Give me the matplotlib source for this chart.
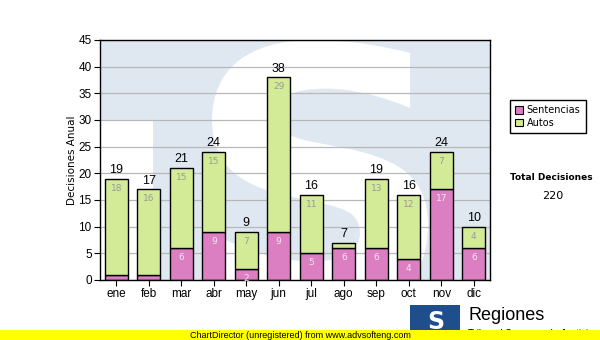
import numpy as np
import matplotlib.pyplot as plt
import matplotlib.patches as mpatches
from matplotlib.textpath import TextPath
from matplotlib.font_manager import FontProperties
from matplotlib.transforms import Affine2D

plt.rcParams.update({'font.family': 'Liberation Sans'})

# monthly decisions
meses = ['ene', 'feb', 'mar', 'abr', 'may', 'jun',
         'jul', 'ago', 'sep', 'oct', 'nov', 'dic']
sentencias = [1, 1, 6, 9, 2, 9, 5, 6, 6, 4, 17, 6]
autos = [18, 16, 15, 15, 7, 29, 11, 1, 13, 12, 7, 4]
totales = [s + a for s, a in zip(sentencias, autos)]

C_SENT = '#DC7EC2'
C_AUTO = '#D3EA96'
WM_BLUE = '#DFE8F1'

W, H = 600, 340
fig = plt.figure(figsize=(6, 3.4), dpi=100)
fig.patch.set_facecolor('white')

ax = fig.add_axes([100 / W, 1 - 280 / H, 390 / W, 240 / H])
ax.set_facecolor(WM_BLUE)

x = np.arange(len(meses))
ax.set_xlim(-0.5, len(meses) - 0.5)
ax.set_ylim(0, 45)

# watermark: white cut-out of the logo behind the bars
ax.add_patch(mpatches.Rectangle((0, 0), 53 / 390, 160 / 240,
                                transform=ax.transAxes, fc='white',
                                ec='none', zorder=0.2))
fp = FontProperties(family='DejaVu Sans', weight='bold')
tp = TextPath((0, 0), 'S', prop=fp, size=1)
ext = tp.get_extents()
x0, x1 = 112 / 390, 328 / 390
y0, y1 = -30 / 240, 1.0
tr = (Affine2D().translate(-ext.x0, -ext.y0)
      .scale((x1 - x0) / ext.width, (y1 - y0) / ext.height)
      .translate(x0, y0))
s_patch = mpatches.PathPatch(tr.transform_path(tp), fc='white', ec='none',
                             transform=ax.transAxes, zorder=0.3)
ax.add_patch(s_patch)
s_patch.set_clip_path(ax.patch)

ax.yaxis.grid(True, color='#B8B8B8', lw=0.9, zorder=0.5)
ax.set_axisbelow(True)

bw = 0.7
ax.bar(x, sentencias, bw, color=C_SENT, edgecolor='black', lw=1.0, zorder=2)
ax.bar(x, autos, bw, bottom=sentencias, color=C_AUTO, edgecolor='black',
       lw=1.0, zorder=2)

for xi, s, a, t in zip(x, sentencias, autos, totales):
    if s >= 2:
        ax.annotate(str(s), (xi, s), xytext=(0, -5), textcoords='offset pixels',
                    ha='center', va='top', fontsize=6.5, color='#F6E6F2',
                    family='DejaVu Sans', zorder=3)
    if a >= 2:
        ax.annotate(str(a), (xi, t), xytext=(0, -5), textcoords='offset pixels',
                    ha='center', va='top', fontsize=6.5, color='#9A9A9A',
                    family='DejaVu Sans', zorder=3)
    ax.annotate(str(t), (xi, t), xytext=(0, 2), textcoords='offset points',
                ha='center', va='bottom', fontsize=9, color='black', zorder=3)

ax.set_xticks(x)
ax.set_xticklabels(meses)
ax.set_yticks(np.arange(0, 46, 5))
ax.tick_params(axis='both', labelsize=8.5, length=4, width=0.8,
               direction='out', pad=2)
for sp in ax.spines.values():
    sp.set_linewidth(1.0)
    sp.set_color('black')
ax.set_ylabel('Decisiones Anual', fontsize=7.5, family='DejaVu Sans',
              labelpad=1)

# legend
handles = [mpatches.Patch(fc=C_SENT, ec='black', lw=0.8, label='Sentencias'),
           mpatches.Patch(fc=C_AUTO, ec='black', lw=0.8, label='Autos')]
fig.legend(handles=handles, loc='upper left',
           bbox_to_anchor=(510 / W, 1 - 100 / H),
           prop={'family': 'DejaVu Sans', 'size': 7},
           frameon=True, fancybox=False, edgecolor='black', framealpha=1,
           handlelength=0.8, handleheight=0.8, handletextpad=0.35,
           labelspacing=0.25, borderpad=0.55, borderaxespad=0)

fig.text(551 / W, 1 - 178 / H, 'Total Decisiones', ha='center', va='center',
         fontsize=6.5, fontweight='bold', family='DejaVu Sans')
fig.text(553 / W, 1 - 196 / H, str(sum(totales)), ha='center', va='center',
         fontsize=8, family='DejaVu Sans')

# logo and footer
fig.patches.append(mpatches.Rectangle((410 / W, 1 - 336 / H), 50 / W, 31 / H,
                                      transform=fig.transFigure, fc='#1E4E8C',
                                      ec='none', zorder=1))
fig.text(436 / W, 1 - 322 / H, 'S', ha='center', va='center', fontsize=17,
         fontweight='bold', color='white', family='DejaVu Sans', zorder=2)
fig.text(468 / W, 1 - 316 / H, 'Regiones', ha='left', va='center',
         fontsize=13, color='black', zorder=2)
fig.text(468 / W, 1 - 334 / H, 'Tribunal Supremo de Justicia', ha='left',
         va='center', fontsize=7, color='black', zorder=2)
fig.patches.append(mpatches.Rectangle((0, 0), 1, 10 / H,
                                      transform=fig.transFigure, fc='#FFFF00',
                                      ec='none', zorder=5))
fig.text(300 / W, 5 / H, 'ChartDirector (unregistered) from www.advsofteng.com',
         ha='center', va='center', fontsize=6.5, color='black', zorder=6)

fig.savefig('out.png', dpi=100, facecolor='white')
